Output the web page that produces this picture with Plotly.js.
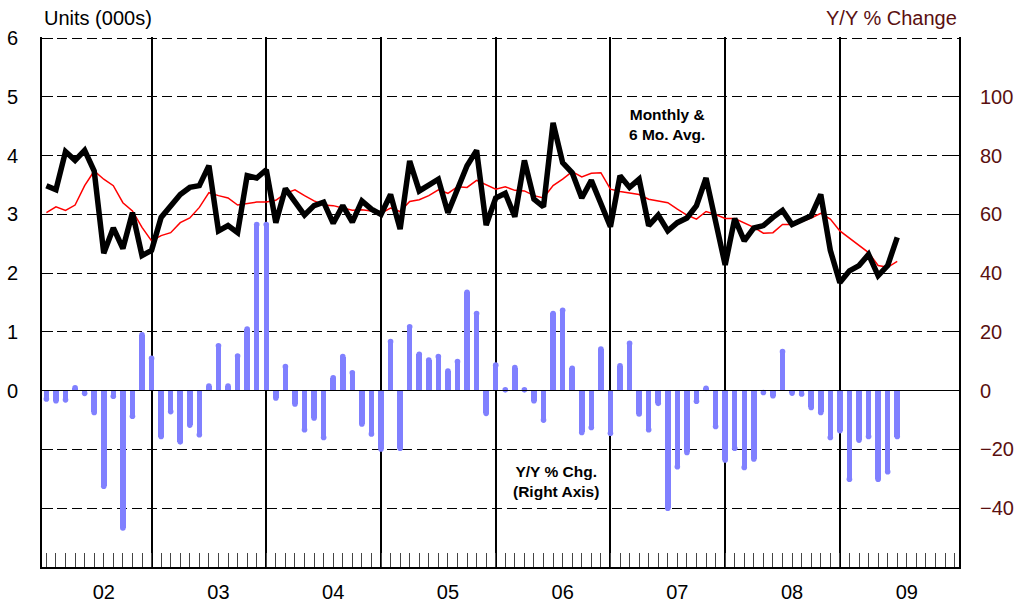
<!DOCTYPE html>
<html><head><meta charset="utf-8">
<script src="https://cdn.plot.ly/plotly-3.0.1.min.js"></script>
<style>html,body{margin:0;padding:0;background:#fff}</style>
</head><body>
<div id="chart" style="width:1019px;height:605px"></div>
<script>
// Year tick labels (one per calendar year)
const yearLabels = ['02','03','04','05','06','07','08','09'];

// Monthly units (000s), left axis
const monthlyUnits = [
  3.49,3.42,4.07,3.92,4.09,3.74,2.34,2.77,2.42,3.03,2.30,2.39,
  2.95,3.15,3.34,3.46,3.49,3.83,2.72,2.81,2.69,3.66,3.62,3.76,
  2.86,3.44,3.20,2.99,3.15,3.21,2.85,3.15,2.87,3.23,3.09,3.00,
  3.34,2.75,3.91,3.40,3.50,3.60,3.03,3.46,3.83,4.09,2.82,3.28,
  3.36,2.96,3.92,3.26,3.13,4.56,3.88,3.71,3.28,3.58,3.20,2.79,
  3.66,3.46,3.60,2.81,2.99,2.72,2.86,2.94,3.15,3.62,2.88,2.14,
  2.93,2.55,2.77,2.81,2.95,3.07,2.83,2.90,2.98,3.34,2.39,1.84,
  2.04,2.13,2.32,1.96,2.13,2.61
];

// 6-month average (000s), left axis
const sixMonthAvg = [
  3.03,3.13,3.07,3.16,3.49,3.74,3.60,3.49,3.20,3.06,2.78,2.55,
  2.64,2.69,2.86,2.94,3.12,3.37,3.32,3.28,3.16,3.19,3.21,3.21,
  3.24,3.36,3.42,3.32,3.23,3.16,3.15,3.11,3.07,3.08,3.06,3.02,
  3.11,3.05,3.22,3.25,3.32,3.42,3.36,3.47,3.46,3.58,3.50,3.43,
  3.47,3.41,3.40,3.32,3.28,3.49,3.60,3.73,3.64,3.70,3.71,3.43,
  3.39,3.37,3.34,3.26,3.23,3.20,3.09,2.99,2.92,3.05,3.00,2.93,
  2.93,2.86,2.78,2.68,2.69,2.83,2.83,2.88,2.94,3.02,2.92,2.72,
  2.60,2.47,2.35,2.13,2.10,2.20
];

// Y/Y % change, right axis
const yoyChange = [
  -2.8,-3.4,-3.1,1.0,-0.9,-7.4,-32.5,-1.9,-46.7,-8.7,19.0,11.0,
  -15.6,-7.1,-17.4,-11.7,-15.0,1.6,15.3,1.6,11.8,21.0,56.6,56.6,
  -2.5,8.2,-4.5,-13.3,-9.3,-15.9,4.4,11.6,6.1,-11.3,-14.7,-19.8,
  16.7,-19.6,21.8,12.4,10.4,11.6,6.7,9.9,33.5,26.3,-7.7,8.7,
  0.3,7.9,0.3,-3.4,-10.0,26.3,27.4,7.6,-14.2,-12.5,14.2,-14.5,
  8.5,16.1,-7.9,-13.3,-4.3,-40.0,-25.9,-21.0,-3.6,0.8,-12.2,-23.6,
  -19.6,-26.1,-23.2,-0.6,-1.7,13.3,-0.8,-1.1,-5.7,-7.4,-15.9,-13.6,
  -30.1,-16.8,-15.6,-30.1,-27.6,-15.6
];

const leftTickVals = [-2,-1,0,1,2,3,4,5,6];
const leftTickText = ['','','0','1','2','3','4','5','6'];
const rightTickVals = [-40,-20,0,20,40,60,80,100];

const monthIdx = monthlyUnits.map((_, i) => i);
const xRange = [-0.46, 95.46];
const leftRange = [-3, 6.02];
const rightRange = [leftRange[0] * 20, leftRange[1] * 20];
const barColor = '#8080ff';
const darkRed = '#5a1010';
const FONT = 'Liberation Sans, Arial, Helvetica, sans-serif';

const traces = [
  { type:'bar', x: monthIdx, y: yoyChange, xaxis:'x', yaxis:'y2',
    width: 0.575, marker:{color: barColor, line:{width:0}}, hoverinfo:'skip' },
  { type:'scatter', mode:'markers', x: monthIdx, y: yoyChange, xaxis:'x', yaxis:'y2',
    marker:{color: barColor, size: 5.6, line:{width:0}}, hoverinfo:'skip' },
  { type:'scatter', mode:'lines', x: monthIdx, y: sixMonthAvg, xaxis:'x', yaxis:'y',
    line:{color:'#ff0000', width:1.5}, hoverinfo:'skip' },
  // monthly line sits on the overlaid x2 axis (same range) so its year gridlines render
  { type:'scatter', mode:'lines', x: monthIdx, y: monthlyUnits, xaxis:'x2', yaxis:'y',
    line:{color:'#000000', width:5.5}, hoverinfo:'skip' }
];

const layout = {
  width: 1019, height: 605,
  margin: {l:42, r:60, t:37, b:38, pad:0},
  paper_bgcolor:'#ffffff', plot_bgcolor:'#ffffff',
  showlegend: false,
  bargap: 0,
  font: {family: FONT, size: 20, color:'#000'},
  xaxis: {
    range: xRange, tickmode:'array',
    tickvals: yearLabels.map((_, k) => 6 + 12*k), ticktext: yearLabels,
    ticks:'inside', ticklen:14, tickwidth:1, tickcolor:'#444',
    minor: {tickmode:'linear', tick0:0, dtick:1, ticks:'inside', ticklen:14, tickwidth:1, tickcolor:'#444', showgrid:false},
    showgrid:false, zeroline:false, showline:true, linecolor:'#000', linewidth:2,
    ticklabelstandoff: 6, tickfont:{family:FONT, size:20, color:'#000'},
    layer:'above traces', fixedrange:true
  },
  xaxis2: {
    overlaying:'x', anchor:'y', side:'bottom', range: xRange,
    tickmode:'array', tickvals: yearLabels.slice(1).map((_, k) => 11 + 12*k),
    showgrid:true, gridcolor:'#000', gridwidth:2,
    showticklabels:false, ticks:'', zeroline:false, showline:false, fixedrange:true
  },
  yaxis: {
    range: leftRange, tickmode:'array', tickvals: leftTickVals, ticktext: leftTickText,
    ticks:'inside', ticklen:11, tickwidth:1, tickcolor:'#000',
    showgrid:true, gridcolor:'#000', gridwidth:1, griddash:'10px,5px',
    zeroline:true, zerolinecolor:'#000', zerolinewidth:1.5, zerolinelayer:'above traces',
    showline:true, linecolor:'#000', linewidth:2,
    ticklabelstandoff: 18, tickfont:{family:FONT, size:20, color:'#000'},
    layer:'above traces', fixedrange:true
  },
  yaxis2: {
    overlaying:'y', side:'right', anchor:'x', range: rightRange,
    tickmode:'array', tickvals: rightTickVals,
    ticks:'inside', ticklen:11, tickwidth:1, tickcolor:'#000',
    showgrid:false, zeroline:false,
    showline:true, linecolor:'#000', linewidth:2,
    ticklabelstandoff: 15, tickfont:{family:FONT, size:20, color: darkRed},
    layer:'above traces', fixedrange:true
  },
  annotations: [
    { text:'Units (000s)', xref:'paper', yref:'paper', x:0, y:1.036,
      xanchor:'left', yanchor:'middle', showarrow:false,
      font:{family:FONT, size:20, color:'#000'} },
    { text:'Y/Y % Change', xref:'paper', yref:'paper', x:1, y:1.036,
      xanchor:'right', yanchor:'middle', showarrow:false,
      font:{family:FONT, size:20, color: darkRed} },
    { text:'<b>Monthly &</b><br><b>6 Mo. Avg.</b>', xref:'paper', yref:'paper',
      x:0.682, y:0.835, xanchor:'center', yanchor:'middle', showarrow:false,
      font:{family:FONT, size:15.5, color:'#000'} },
    { text:'<b>Y/Y % Chg.</b><br><b>(Right Axis)</b>', xref:'paper', yref:'paper',
      x:0.560, y:0.162, xanchor:'center', yanchor:'middle', showarrow:false,
      font:{family:FONT, size:15.5, color:'#000'} }
  ]
};

Plotly.newPlot('chart', traces, layout, {displayModeBar:false, staticPlot:true});
</script>
</body></html>
